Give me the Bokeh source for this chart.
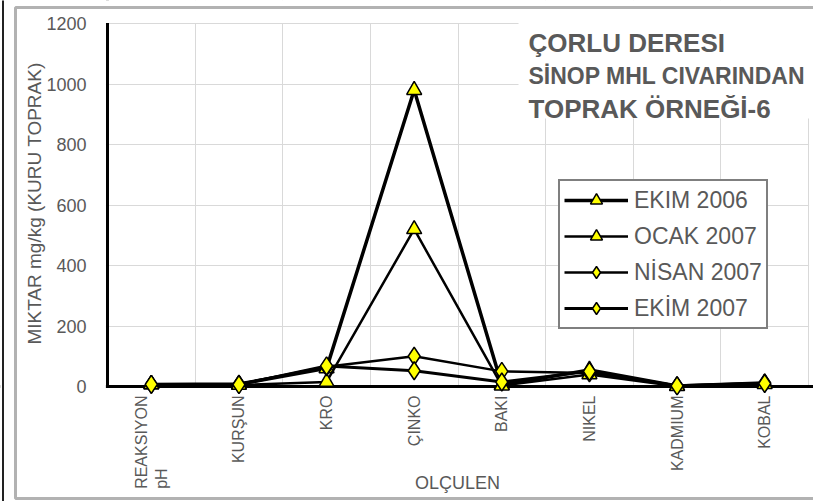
import numpy as np
from bokeh.plotting import figure
from bokeh.core.properties import value
from bokeh.models import (Range1d, FixedTicker, Span, Label, LabelSet, BoxAnnotation,
                          Legend, LegendItem, ColumnDataSource)
from bokeh.embed import file_html
from bokeh.resources import INLINE

categories = ["REAKSIYON\npH", "KURŞUN", "KRO", "ÇINKO", "BAKI", "NIKEL", "KADMIUM", "KOBAL"]
ekim_2006 = [7, 8, 60, 980, 5, 55, 2, 12]
ocak_2007 = [7, 5, 15, 520, 3, 40, 1, 8]
nisan_2007 = [7, 8, 65, 100, 50, 45, 3, 12]
ekim_2007 = [7, 6, 68, 52, 15, 50, 2, 10]
y_ticks = [0, 200, 400, 600, 800, 1000, 1200]
y_tick_labels = ["0", "200", "400", "600", "800", "1000", "1200"]
title_lines = ["ÇORLU DERESI", "SİNOP MHL CIVARINDAN", "TOPRAK ÖRNEĞİ-6"]
series_names = ["EKIM 2006", "OCAK 2007", "NİSAN 2007", "EKİM 2007"]
x_title = "OLÇULEN"
y_title = "MIKTAR mg/kg (KURU TOPRAK)"

FONT = "Liberation Sans"
GRAY = "#595959"
W, H = 813, 501
# pixel layout of the plotting area
PX_L, PX_R, PY_TOP, PY_ZERO = 107, 808, 23, 386
YMAX = 1200
n = len(categories)
sx = (PX_R - PX_L) / n
sy = (PY_ZERO - PY_TOP) / YMAX


def dx(px):
    return (px - PX_L) / sx


def dy(py):
    return (PY_ZERO - py) / sy


xs = np.arange(n) + 0.5

p = figure(width=W, height=H, x_range=Range1d(dx(0), dx(W)), y_range=Range1d(dy(H), dy(0)),
           output_backend="svg", toolbar_location=None, x_axis_location=None,
           y_axis_location=None, min_border=0, outline_line_color=None)

p.xgrid.ticker = FixedTicker(ticks=list(range(n + 1)))
p.xgrid.grid_line_color = "#d9d9d9"
p.ygrid.ticker = FixedTicker(ticks=y_ticks)
p.ygrid.grid_line_color = "#d9d9d9"

# axis lines
p.add_layout(Span(location=0, dimension="width", line_color="black", line_width=3, level="underlay"))
p.add_layout(Span(location=0, dimension="height", line_color="black", line_width=3, level="underlay"))
# masks limiting grid & axis lines to the plotting area
for kw in [dict(left=dx(-50), right=dx(PX_L - 1.6), bottom=dy(H + 50), top=dy(-50)),
           dict(left=dx(-50), right=dx(W + 50), bottom=dy(PY_ZERO + 1.6), top=dy(H + 50)),
           dict(left=dx(-50), right=dx(W + 50), bottom=dy(PY_TOP - 0.6), top=dy(-50)),
           dict(left=dx(PX_R + 0.6), right=dx(W + 50), bottom=dy(PY_ZERO - 1.6), top=dy(-50))]:
    p.add_layout(BoxAnnotation(fill_color="white", fill_alpha=1, line_color=None,
                               level="underlay", **kw))

styles = [("triangle", 3.5, 15), ("triangle", 2.5, 15), ("diamond", 2.5, 18), ("diamond", 3, 18)]
items = []
for name, vals, (marker, lw, size) in zip(series_names, [ekim_2006, ocak_2007, nisan_2007, ekim_2007], styles):
    src = ColumnDataSource(dict(x=xs, y=vals))
    l = p.line("x", "y", source=src, line_color="black", line_width=lw)
    s = p.scatter("x", "y", source=src, marker=marker, size=size, fill_color="#ffff00",
                  line_color="black", line_width=1.5)
    items.append(LegendItem(label=name, renderers=[l, s]))

legend = Legend(items=items, location=(558, H - 329), border_line_color="black", border_line_width=2,
                background_fill_color="white", background_fill_alpha=1,
                label_text_font=FONT, label_text_font_size="23px", label_text_color=GRAY,
                glyph_width=64, glyph_height=30, label_height=30, spacing=6, padding=4,
                margin=0, label_standoff=6)
p.add_layout(legend, "center")

# title area
p.add_layout(BoxAnnotation(left=dx(518), right=dx(W + 50), bottom=dy(118), top=dy(10),
                           fill_color="white", fill_alpha=1, line_color=None))
title_sizes = ["26px", "23px", "26px"]
title_base = [42, 75, 108]
for t, fs, b in zip(title_lines, title_sizes, title_base):
    p.add_layout(Label(x=dx(528), y=dy(b), text=t, text_font=FONT, text_font_size=fs,
                       text_font_style="bold", text_color=GRAY, text_baseline="alphabetic"))

# outer frames
p.add_layout(BoxAnnotation(left=dx(15), right=dx(W + 50), top=dy(7), bottom=dy(498),
                           fill_alpha=0, line_color="black", line_width=3))
p.add_layout(BoxAnnotation(left=dx(1.5), right=dx(3.5), top=dy(-50), bottom=dy(H + 50),
                           fill_color="#222222", fill_alpha=1, line_color=None))

# y tick labels and y title
ysrc = ColumnDataSource(dict(x=[dx(86)] * len(y_ticks), y=y_ticks, text=y_tick_labels))
p.add_layout(LabelSet(x="x", y="y", text="text", source=ysrc, text_align="right",
                      text_baseline="middle", text_font=value(FONT), text_font_size=value("18px"),
                      text_color=value(GRAY)))
p.add_layout(Label(x=dx(34), y=dy(203), text=y_title, angle=np.pi / 2, text_align="center",
                   text_baseline="middle", text_font=FONT, text_font_size="19px", text_color=GRAY))

# category labels and x title
lab_src = ColumnDataSource(dict(x=xs, y=[dy(395)] * n, text=categories))
p.add_layout(LabelSet(x="x", y="y", text="text", source=lab_src, angle=np.pi / 2,
                      text_align="right", text_baseline="middle", text_font=value(FONT),
                      text_font_size=value("16px"), text_color=value(GRAY)))
p.add_layout(Label(x=dx(457), y=dy(482), text=x_title, text_font=FONT, text_font_size="18px",
                   text_color=GRAY, text_align="center", text_baseline="alphabetic"))

open("out.html", "w").write(file_html(p, INLINE))
